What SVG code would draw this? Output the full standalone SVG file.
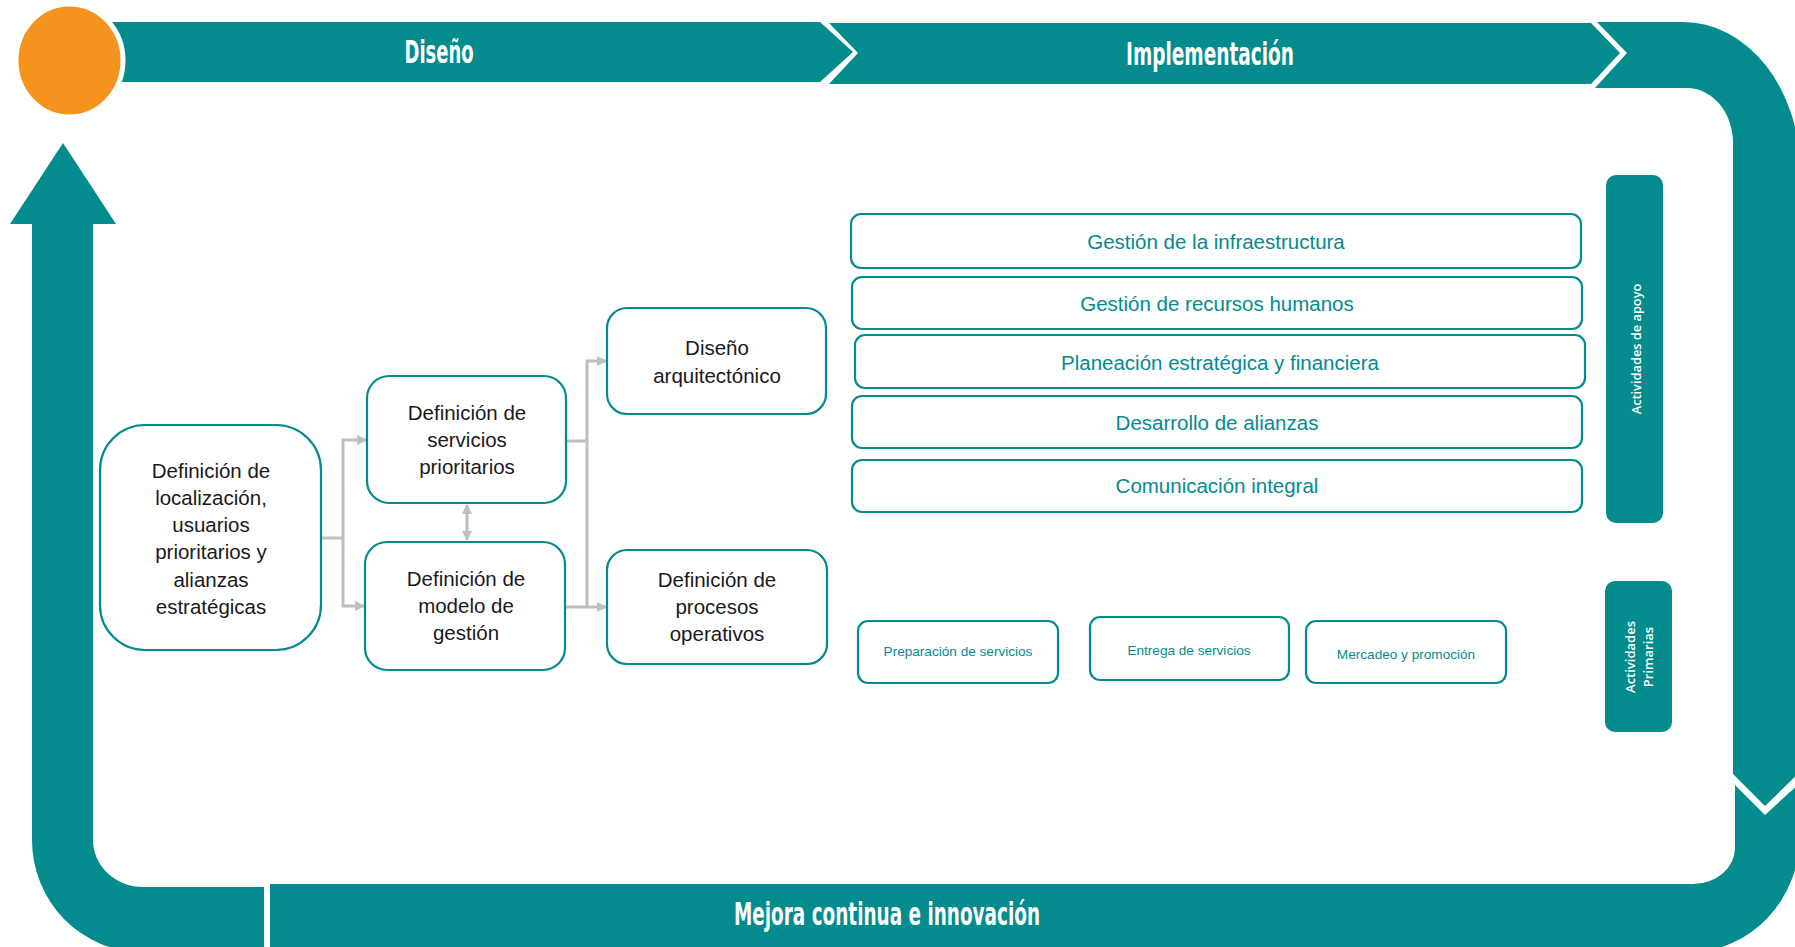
<svg xmlns="http://www.w3.org/2000/svg" width="1795" height="947" viewBox="0 0 1795 947">
<style>
.teal{fill:#038B8E}
.band{font-family:"DejaVu Sans Condensed","DejaVu Sans",sans-serif;font-weight:bold;font-size:32px;fill:#ffffff;text-anchor:middle}
.box{fill:#ffffff;stroke:#038B8E;stroke-width:2.2}
.bt{font-family:"Liberation Sans",Arial,sans-serif;font-size:20.5px;fill:#1a1a1a;text-anchor:middle}
.st{font-family:"Liberation Sans",Arial,sans-serif;font-size:20.5px;fill:#038B8E;text-anchor:middle}
.pt{font-family:"Liberation Sans",Arial,sans-serif;font-size:13.6px;fill:#038B8E;text-anchor:middle}
.vt{font-family:"Open Sans","Liberation Sans",sans-serif;font-weight:600;fill:#ffffff;text-anchor:middle}
.con{fill:none;stroke:#BFBFBF;stroke-width:3}
</style>
<defs>
<marker id="ah" viewBox="0 0 10 10" refX="9" refY="5" markerWidth="10" markerHeight="10" markerUnits="userSpaceOnUse" orient="auto-start-reverse">
<path d="M0,0 L10,5 L0,10 Z" fill="#BFBFBF"/>
</marker>
</defs>
<rect width="1795" height="947" fill="#ffffff"/>

<g id="cycle">
<polygon class="teal" points="100,22 820,22 853,52 820,82 100,82"/>
<polygon class="teal" points="829,23 1591,23 1620,53 1591,84 829,84 858,53"/>
<path class="teal" d="M1597,22 L1683,22 A117 148 0 0 1 1800,170 L1800,772 L1765,806 L1733,774 L1733,143 A46 55 0 0 0 1687,88 L1595,88 L1627,53 Z"/>
<path class="teal" d="M1735,785 L1765,815 L1800,783 L1800,835 A110 117 0 0 1 1690,952 L270,952 L270,884 L1693,884 A42 36 0 0 0 1735,848 Z"/>
<path class="teal" d="M264,887 L143,887 A50 47 0 0 1 93,840 L93,224 L116,224 L63,143 L10,224 L32,224 L32,840 A110 112 0 0 0 142,952 L264,952 Z"/>
<ellipse cx="69.5" cy="60.5" rx="53.5" ry="56.5" fill="#F4941F" stroke="#ffffff" stroke-width="5"/>
<text class="band" x="439" y="63" textLength="69" lengthAdjust="spacingAndGlyphs">Diseño</text>
<text class="band" x="1210" y="65" textLength="168" lengthAdjust="spacingAndGlyphs">Implementación</text>
<text class="band" x="887" y="925" textLength="306" lengthAdjust="spacingAndGlyphs">Mejora continua e innovación</text>
</g>

<g id="connectors">
<path class="con" d="M321,538 H343 V440 H366" marker-end="url(#ah)"/>
<path class="con" d="M343,538 V606 H364" marker-end="url(#ah)"/>
<path class="con" d="M467,505 V540" marker-start="url(#ah)" marker-end="url(#ah)"/>
<path class="con" d="M566,441 H587 V361 H606" marker-end="url(#ah)"/>
<path class="con" d="M587,441 V607"/>
<path class="con" d="M565,607 H606" marker-end="url(#ah)"/>
</g>

<g id="n-localizacion">
<rect class="box" x="100" y="425" width="221" height="225" rx="45"/>
<text class="bt" x="211" y="478">Definición de</text>
<text class="bt" x="211" y="505">localización,</text>
<text class="bt" x="211" y="532">usuarios</text>
<text class="bt" x="211" y="559">prioritarios y</text>
<text class="bt" x="211" y="587">alianzas</text>
<text class="bt" x="211" y="614">estratégicas</text>
</g>
<g id="n-servicios">
<rect class="box" x="367" y="376" width="199" height="127" rx="22"/>
<text class="bt" x="467" y="420">Definición de</text>
<text class="bt" x="467" y="447">servicios</text>
<text class="bt" x="467" y="474">prioritarios</text>
</g>
<g id="n-modelo">
<rect class="box" x="365" y="542" width="200" height="128" rx="22"/>
<text class="bt" x="466" y="586">Definición de</text>
<text class="bt" x="466" y="613">modelo de</text>
<text class="bt" x="466" y="640">gestión</text>
</g>
<g id="n-arquitectonico">
<rect class="box" x="607" y="308" width="219" height="106" rx="20"/>
<text class="bt" x="717" y="355">Diseño</text>
<text class="bt" x="717" y="383">arquitectónico</text>
</g>
<g id="n-procesos">
<rect class="box" x="607" y="550" width="220" height="114" rx="20"/>
<text class="bt" x="717" y="587">Definición de</text>
<text class="bt" x="717" y="614">procesos</text>
<text class="bt" x="717" y="641">operativos</text>
</g>

<g id="s-infraestructura">
<rect class="box" x="851" y="214" width="730" height="54" rx="10"/>
<text class="st" x="1216" y="249">Gestión de la infraestructura</text>
</g>
<g id="s-rrhh">
<rect class="box" x="852" y="277" width="730" height="52" rx="10"/>
<text class="st" x="1217" y="311">Gestión de recursos humanos</text>
</g>
<g id="s-planeacion">
<rect class="box" x="855" y="335" width="730" height="53" rx="10"/>
<text class="st" x="1220" y="370">Planeación estratégica y financiera</text>
</g>
<g id="s-alianzas">
<rect class="box" x="852" y="396" width="730" height="52" rx="10"/>
<text class="st" x="1217" y="430">Desarrollo de alianzas</text>
</g>
<g id="s-comunicacion">
<rect class="box" x="852" y="460" width="730" height="52" rx="10"/>
<text class="st" x="1217" y="493">Comunicación integral</text>
</g>

<g id="p-preparacion">
<rect class="box" x="858" y="621" width="200" height="62" rx="10"/>
<text class="pt" x="958" y="656">Preparación de servicios</text>
</g>
<g id="p-entrega">
<rect class="box" x="1090" y="617" width="199" height="63" rx="10"/>
<text class="pt" x="1189" y="655">Entrega de servicios</text>
</g>
<g id="p-mercadeo">
<rect class="box" x="1306" y="621" width="200" height="62" rx="10"/>
<text class="pt" x="1406" y="659">Mercadeo y promoción</text>
</g>

<g id="apoyo">
<rect class="teal" x="1606" y="175" width="57" height="348" rx="10"/>
<text class="vt" font-size="12.8" transform="translate(1641,349) rotate(-90)">Actividades de apoyo</text>
</g>
<g id="primarias">
<rect class="teal" x="1605" y="581" width="67" height="151" rx="10"/>
<text class="vt" font-size="13" transform="translate(1635,657) rotate(-90)">Actividades</text>
<text class="vt" font-size="13" transform="translate(1653,657) rotate(-90)">Primarias</text>
</g>
</svg>
